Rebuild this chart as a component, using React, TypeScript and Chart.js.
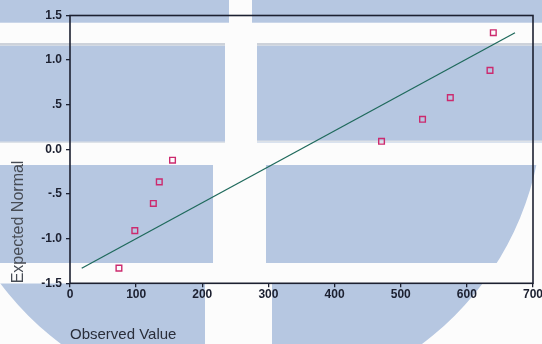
import { useEffect, useRef } from "react";
import { Chart, registerables } from "chart.js";

Chart.register(...registerables);

// Normal Q-Q plot: observed values against expected normal scores
const OBSERVED = [74, 98, 126, 135, 155, 471, 533, 575, 635, 640];
const EXPECTED = [-1.33, -0.91, -0.605, -0.364, -0.121, 0.091, 0.337, 0.58, 0.885, 1.307];

// Reference line end points (observed, expected)
const LINE_X = [17.7, 672.8];
const LINE_Y = [-1.332, 1.307];

const X_TICKS = [0, 100, 200, 300, 400, 500, 600, 700];
const X_TICK_LABELS = ["0", "100", "200", "300", "400", "500", "600", "700"];
const Y_TICKS = [-1.5, -1, -0.5, 0, 0.5, 1, 1.5];
const Y_TICK_LABELS = ["-1.5", "-1.0", "-.5", "0.0", ".5", "1.0", "1.5"];

const FONT = '"Liberation Sans", Arial, Helvetica, sans-serif';
const INK = "#1c2030";
const PANEL_BLUE = "#b6c7e1";
const PAPER = "#fcfcfc";

// Paper backdrop: blue panels separated by white bands, rounded off at the bottom
const backdrop = {
  id: "backdrop",
  beforeDraw(chart: Chart) {
    const { ctx, width, height } = chart;
    ctx.save();
    ctx.fillStyle = PAPER;
    ctx.fillRect(0, 0, width, height);
    ctx.beginPath();
    ctx.arc(241.5, 102.5, 301.5, 0, Math.PI * 2);
    ctx.rect(0, 0, width, 160);
    ctx.clip();
    const rows: [number, number, number, number][] = [
      [0, 22.7, 229, 252],
      [45.5, 142.5, 225, 257],
      [165, 263, 213, 266],
      [283.5, height, 205, 272],
    ];
    ctx.fillStyle = PANEL_BLUE;
    for (const [y0, y1, gapL, gapR] of rows) {
      ctx.fillRect(0, y0, gapL, y1 - y0);
      ctx.fillRect(gapR, y0, width - gapR, y1 - y0);
    }
    // soft grey seams along the band edges
    ctx.fillStyle = "#cdd2da";
    ctx.fillRect(0, 43, 225, 2.5);
    ctx.fillRect(257, 43, width - 257, 2.5);
    ctx.fillStyle = "#dde2e8";
    ctx.fillRect(0, 141.5, 225, 1.5);
    ctx.fillRect(257, 140.5, width - 257, 1.5);
    ctx.restore();
  },
};

// Box around the plotting area
const frame = {
  id: "frame",
  afterDatasetsDraw(chart: Chart) {
    const { ctx, chartArea } = chart;
    ctx.save();
    ctx.strokeStyle = INK;
    ctx.lineWidth = 1.6;
    ctx.strokeRect(
      chartArea.left,
      chartArea.top,
      chartArea.right - chartArea.left,
      chartArea.bottom - chartArea.top
    );
    ctx.restore();
  },
};

export default function App() {
  const canvasRef = useRef<HTMLCanvasElement | null>(null);

  useEffect(() => {
    const canvas = canvasRef.current;
    if (!canvas) return;

    const points = OBSERVED.map((x, i) => ({ x, y: EXPECTED[i] }));
    const line = LINE_X.map((x, i) => ({ x, y: LINE_Y[i] }));

    const chart = new Chart(canvas, {
      type: "scatter",
      data: {
        datasets: [
          {
            data: line,
            showLine: true,
            borderColor: "#1f6a5c",
            borderWidth: 1.3,
            pointRadius: 0,
            fill: false,
          },
          {
            data: points,
            pointStyle: "rect",
            pointRadius: 4,
            pointBorderWidth: 1.4,
            pointBorderColor: "#cc2a6e",
            pointBackgroundColor: "rgba(0,0,0,0)",
          },
        ],
      },
      options: {
        responsive: false,
        animation: false,
        devicePixelRatio: 1,
        layout: { padding: { left: 0, top: 15.5, right: 9, bottom: 0 } },
        plugins: {
          legend: { display: false },
          tooltip: { enabled: false },
        },
        scales: {
          x: {
            type: "linear",
            min: 0,
            max: 700,
            afterBuildTicks: (scale: any) => {
              scale.ticks = X_TICKS.map((value) => ({ value }));
            },
            afterFit: (scale: any) => {
              scale.height = 60.7;
              scale.paddingLeft = 0;
              scale.paddingRight = 0;
            },
            ticks: {
              padding: 0,
              color: INK,
              font: { family: FONT, size: 12, weight: "bold" },
              callback: (v: any) => X_TICK_LABELS[X_TICKS.indexOf(Number(v))] ?? "",
            },
            grid: {
              display: true,
              drawOnChartArea: false,
              drawTicks: true,
              tickLength: 4,
              color: INK,
              lineWidth: 1.3,
            },
            border: { display: false },
            title: {
              display: true,
              text: "Observed Value",
              align: "start",
              color: "#2a2e3a",
              font: { family: FONT, size: 15 },
              padding: { top: 0, bottom: 0 },
            },
          },
          y: {
            type: "linear",
            min: -1.5,
            max: 1.5,
            afterBuildTicks: (scale: any) => {
              scale.ticks = Y_TICKS.map((value) => ({ value }));
            },
            afterFit: (scale: any) => {
              scale.width = 70;
              scale.paddingTop = 0;
              scale.paddingBottom = 0;
            },
            ticks: {
              padding: 4,
              color: INK,
              font: { family: FONT, size: 12, weight: "bold" },
              callback: (v: any) => Y_TICK_LABELS[Y_TICKS.indexOf(Number(v))] ?? "",
            },
            grid: {
              display: true,
              drawOnChartArea: false,
              drawTicks: true,
              tickLength: 4,
              color: INK,
              lineWidth: 1.3,
            },
            border: { display: false },
            title: {
              display: true,
              text: "Expected Normal",
              align: "start",
              color: "#474c55",
              font: { family: FONT, size: 16 },
              padding: { top: 9, bottom: 0 },
            },
          },
        },
      },
      plugins: [backdrop, frame],
    });

    return () => chart.destroy();
  }, []);

  return (
    <div style={{ position: "absolute", left: 0, top: 0, width: 542, height: 344 }}>
      <canvas ref={canvasRef} width={542} height={344} style={{ display: "block" }} />
    </div>
  );
}
